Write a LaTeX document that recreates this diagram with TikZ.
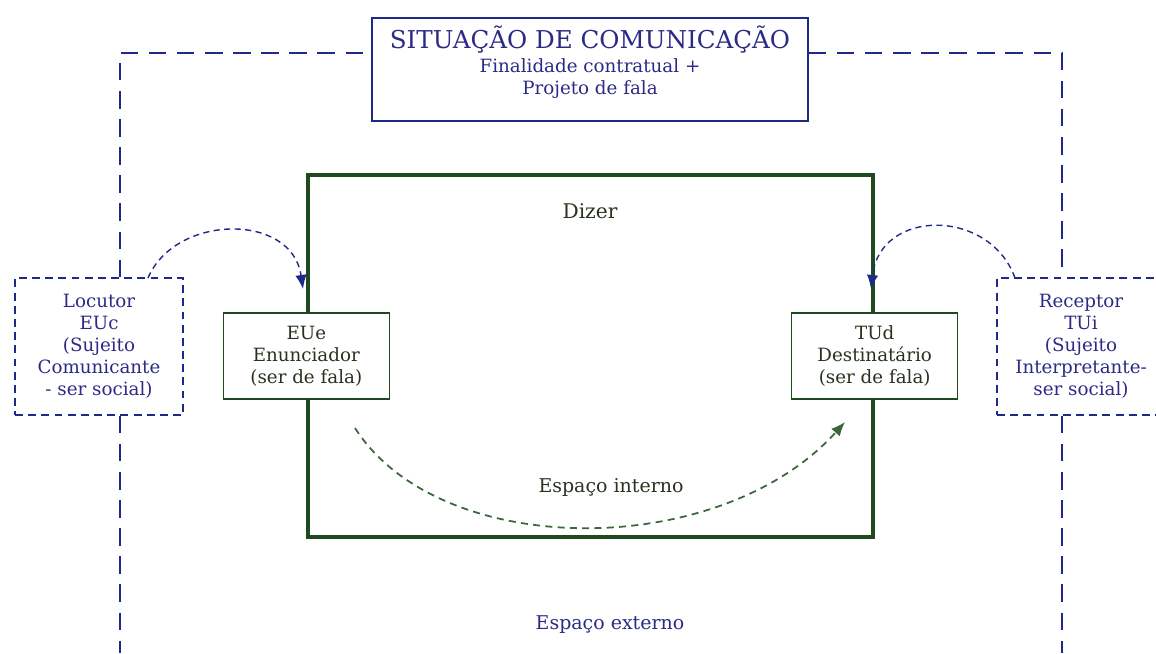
\documentclass[tikz,border=0pt]{standalone}
\usepackage{fontspec}
\setmainfont{DejaVu Serif}
\usetikzlibrary{arrows.meta}

\definecolor{navy}{HTML}{1E2A8A}
\definecolor{navytext}{HTML}{2B2B85}
\definecolor{forest}{HTML}{1F4A1F}
\definecolor{forestdash}{HTML}{3B663B}
\definecolor{darktext}{HTML}{27331F}

\tikzset{
    outerline/.style={draw=navy, line width=1.5pt, dash pattern=on 10pt off 6pt},
    subject/.style={draw=navy, line width=0.9pt, dash pattern=on 4.5pt off 3pt, fill=white,
        text=navytext, align=center, minimum width=3.36cm, minimum height=2.74cm,
        font=\fontsize{10.4}{12.5}\selectfont},
    being/.style={draw=forest, line width=0.8pt, fill=white, text=darktext, align=center,
        minimum width=3.32cm, minimum height=1.72cm, font=\fontsize{10.4}{12.5}\selectfont},
    talk/.style={draw=navy, line width=0.8pt, dash pattern=on 3.5pt off 2.5pt,
        -{Latex[length=8pt,width=6.5pt]}},
    inner talk/.style={draw=forestdash, line width=1pt, dash pattern=on 4pt off 3pt,
        -{Latex[length=8pt,width=6.5pt]}}
}

\begin{document}
\begin{tikzpicture}[x=0.02cm, y=-0.02cm]
            \useasboundingbox (0,0) rectangle (1156,653);
            % situation box and outer space
            \node[draw=navy, line width=0.8pt, fill=white, minimum width=8.72cm, minimum height=2.06cm]
                (situacao) at (590,69.5) {};
            \node[text=navytext, align=center, font=\fontsize{10.4}{12.5}\selectfont] (situacao text) at (590,62)
                {{\fontsize{14}{15}\selectfont SITUAÇÃO DE COMUNICAÇÃO}\\[1pt] Finalidade contratual +\\ Projeto de fala};
            \node[subject] (locutor) at (99,346.5) {Locutor\\ EUc\\ (Sujeito\\ Comunicante\\ - ser social)};
            \node[subject] (receptor) at (1081,346.5) {Receptor\\ TUi\\ (Sujeito\\ Interpretante-\\ ser social)};
            \coordinate (top left) at (120,53);
            \coordinate (top right) at (1062,53);
            \coordinate (left end) at (120,653);
            \coordinate (right end) at (1062,653);
            \draw[outerline] (locutor.north -| left end) -- (top left) -- (situacao.west |- top left);
            \draw[outerline] (situacao.east |- top right) -- (top right) -- (receptor.north -| right end);
            \draw[outerline] (locutor.south -| left end) -- (left end);
            \draw[outerline] (receptor.south -| right end) -- (right end);
            % internal space
            \node[draw=forest, line width=2pt, minimum width=11.3cm, minimum height=7.24cm] (dizer) at (590.5,356) {};
            \node[text=darktext, font=\fontsize{11.5}{13}\selectfont] (dizer label) at (590,211) {Dizer};
            \node[being] (enunciador) at (dizer.west) {EUe\\ Enunciador\\ (ser de fala)};
            \node[being] (destinatario) at (dizer.east) {TUd\\ Destinatário\\ (ser de fala)};
            \node[text=darktext, font=\fontsize{10.8}{12.5}\selectfont] (interno) at (611,487) {Espaço interno};
            \node[text=navytext, font=\fontsize{10.8}{12.5}\selectfont] (externo) at (610,625) {Espaço externo};
            % the arrows
            \coordinate (euc out) at (148,278);
            \coordinate (eue in) at (303,289);
            \coordinate (tui out) at (1015,278);
            \coordinate (tud in) at (871,289);
            \coordinate (eue out) at (355,428);
            \coordinate (tud in2) at (845,422);
            \draw[talk] (euc out) .. controls (175,214) and (292,212) .. (eue in);
            \draw[talk] (tui out) .. controls (990,208) and (880,208) .. (tud in);
            \draw[inner talk] (eue out) .. controls (440,561) and (720,561) .. (tud in2);
\end{tikzpicture}
\end{document}
